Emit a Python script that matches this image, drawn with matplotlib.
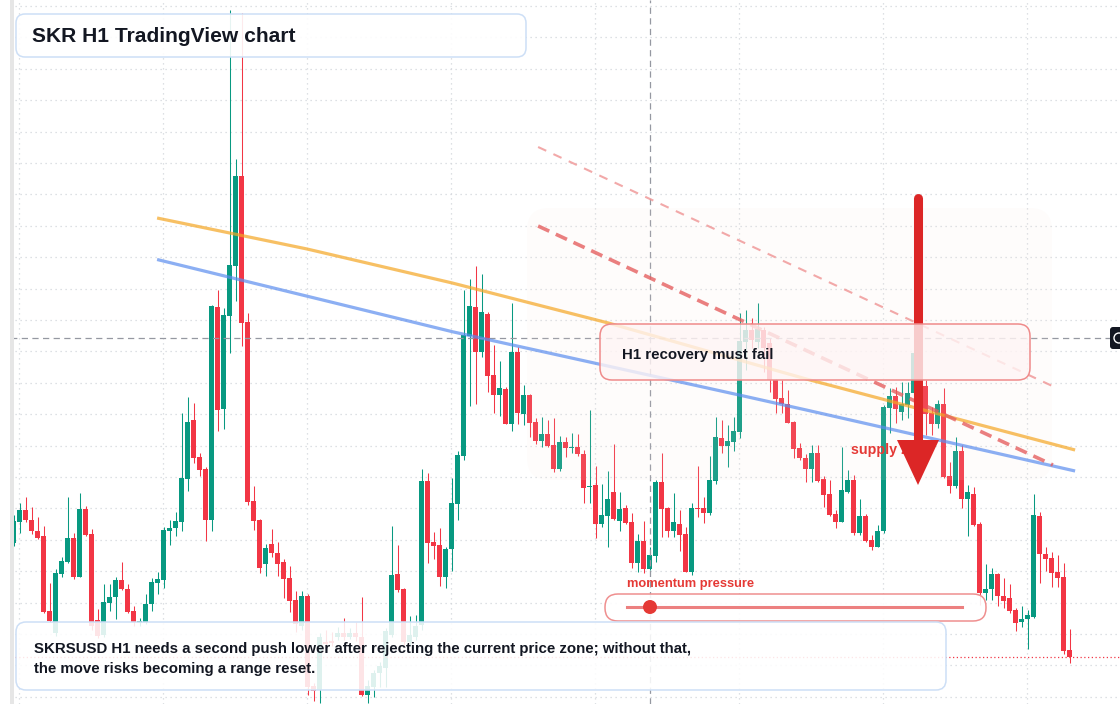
import numpy as np
import matplotlib
matplotlib.use("Agg")
import matplotlib.pyplot as plt
import matplotlib.transforms as mtransforms
from matplotlib.patches import FancyBboxPatch, Polygon, Rectangle, Circle

plt.rcParams['font.family'] = ['Liberation Sans', 'DejaVu Sans']

# SKRSUSD H1 candles, oldest -> newest (price units of the chart)
opens = [161, 182.3, 194, 184, 173, 168, 93, 71, 130, 141.7,
         165.7, 127.3, 195, 170, 84, 69, 101.3, 106.7, 124, 115,
         93, 81, 82, 100, 121, 124, 173, 176.4, 182.2, 225,
         284.2, 247, 235, 184.5, 397, 295.4, 388.3, 438.2, 528, 381.6,
         203, 184, 140.5, 160, 151, 142, 126, 104, 78, 108,
         18, 14, 62.3, 63, 67.3, 71.3, 67.3, 71.3, 67.3, 9,
         16.7, 30.7, 35.7, 69, 130, 115, 62.3, 67.3, 79, 223,
         162, 159, 126.7, 154.7, 200.3, 248.3, 368.3, 397, 352.3, 390,
         329, 309.3, 315, 280.3, 352.3, 289.7, 309, 282, 263.3, 270,
         259, 234.7, 262, 256, 257, 250, 217.3, 219, 180.3, 188.3,
         212, 183.3, 196.3, 182, 141, 163, 135.3, 148, 222, 196.3,
         173, 180, 170, 132.3, 196, 196, 191.3, 223.3, 266, 258.3,
         262.3, 272.3, 362.3, 374, 362.3, 374, 361, 324, 305.7, 300,
         282, 256, 246, 235, 250.7, 224.7, 210, 190, 182.3, 212.3,
         224, 170.7, 188, 164, 157.3, 173, 296.3, 308, 292.3, 299,
         311, 319, 318, 291.3, 280, 300, 228, 218.3, 253, 204.7,
         210, 180, 110.7, 114.7, 130, 108, 105.7, 94, 82.3, 84.7,
         86.7, 188, 150, 146, 132.3, 127.3, 54]
closes = [183, 194, 183.7, 173.3, 166.3, 92.3, 83.3, 130.7, 143, 165.7,
          126.7, 194.7, 169, 78, 68, 102, 107.3, 124, 114.7, 91.7,
          82, 83, 100, 122, 125, 174, 176.4, 183, 225.8, 282,
          246, 234, 184.5, 398, 294.5, 389, 439, 528, 380.7, 202.4,
          183, 136, 156.2, 151, 140.5, 125.3, 103.3, 80, 108, 17,
          13.3, 67.3, 60.5, 60.7, 71.3, 67.3, 71.3, 67.3, 9, 18,
          31.3, 38, 73.3, 129, 114, 62.3, 69, 78, 223, 161.3,
          158.3, 126.7, 155, 201, 249, 369, 398, 352.3, 392, 328.3,
          309.3, 316, 280.3, 352.3, 291.3, 309, 281.3, 263.3, 270, 258.3,
          235, 262, 256.3, 257, 249.7, 216.3, 218.3, 180.3, 189, 205,
          185.3, 195, 181.3, 141, 163, 135.3, 149, 222.3, 195.3, 173,
          182.3, 169.3, 132.3, 196, 195.3, 191.3, 224, 267.3, 258.3, 263,
          273, 363, 374, 364, 374.7, 355.7, 324, 305.3, 299.7, 281.3,
          255.3, 245.7, 235, 250.7, 223.3, 209, 189, 182.3, 214, 224,
          170.7, 188, 163.3, 157.3, 173, 297.3, 308, 294.7, 300, 310.7,
          351, 309, 290, 280, 300, 227.3, 218.3, 253, 205.3, 211.7,
          179.3, 110.7, 115, 130, 108.3, 103.3, 93.3, 80.7, 85.3, 88.7,
          189, 149.7, 145, 131.3, 126.3, 53.3, 47.3]
highs = [189, 201.3, 207.3, 197.3, 187.3, 178, 121, 134.7, 146.7, 206.7,
         170.7, 210.7, 198, 174.7, 94.7, 120, 120, 127.3, 142, 120,
         98, 86, 110, 126, 132.4, 177.3, 184, 192, 291, 306.6,
         301, 251.4, 237, 399.5, 414.4, 396.4, 694, 544.6, 691.4, 390.6,
         218.2, 185, 160, 175, 162, 144.7, 138, 113, 113, 110,
         21, 71, 74, 72, 77.3, 85.7, 76, 82, 107, 24,
         34, 42.3, 76, 178, 159, 116, 88, 89, 234.7, 230.7,
         172.3, 176.3, 157.3, 226, 253, 413.7, 425, 438, 430, 392,
         358.7, 343, 317, 401.3, 356.7, 319, 310, 285.7, 287.3, 284,
         286.3, 268, 267.3, 271.3, 270, 254, 294, 238, 220, 233.3,
         260, 212, 199, 190.7, 170, 183, 157.3, 224, 251.3, 197.3,
         211.3, 194, 177.3, 200.7, 238, 207.3, 248, 287.3, 284, 279,
         287.3, 390.7, 394, 385.7, 400.7, 377, 366, 325, 324, 314,
         283, 260.7, 250, 259, 259, 228, 224, 194, 257.3, 234,
         229, 205, 190, 169, 179, 299, 315.7, 317.3, 322.3, 322.3,
         354, 326, 324, 297.3, 304, 315.7, 242.3, 267, 259, 219,
         216.7, 182, 140, 135.7, 131, 125.7, 120, 96, 98, 94,
         210, 192.3, 157.3, 152.3, 149, 141.3, 74.7]
lows = [158, 171.3, 182, 170, 165.3, 91.3, 82, 68, 127.3, 140.7,
        125.3, 126.7, 168, 74, 66, 67, 93.3, 85.3, 114, 90.7,
        78, 78, 80, 93.3, 110.4, 116, 159.3, 168.3, 173.2, 213.2,
        241.5, 228, 163, 173, 273, 275.2, 350.6, 403.1, 358.2, 199,
        174, 131.5, 128.4, 147.2, 128, 105.7, 92.3, 72, 74, 9,
        3.3, 1, 56, 58, 64, 64, 65, 63, 8.5, 1,
        7.3, 17.3, 17.3, 67, 112, 59, 59, 64, 74, 141.3,
        145, 118.3, 116.3, 133.3, 184.3, 244, 298.3, 300.3, 346.7, 312.3,
        291.3, 288.3, 280, 273.3, 280, 279, 267.3, 260, 257.3, 257,
        232.3, 233.3, 246.7, 251.3, 248, 201.3, 201.3, 166.3, 177, 156.7,
        184, 173.3, 180, 135.7, 132.3, 130.7, 134, 142, 167.3, 167.3,
        166.7, 153, 132, 129, 187.3, 180.7, 189, 220, 250.7, 237.3,
        253.3, 265.7, 334, 356, 356, 332.3, 312.3, 291.3, 290.7, 281,
        246.3, 244, 222.3, 222.3, 222, 197.3, 188, 175.7, 182, 211,
        169, 169, 162, 154, 156.7, 171, 270.7, 281.3, 284, 285.7,
        304, 306, 269, 269, 276, 226, 210.7, 216, 195.7, 168.3,
        178, 99, 104, 104, 98, 95.7, 90.7, 73.3, 76.7, 54.7,
        86, 121.3, 133.3, 116.7, 116.7, 50, 41.3]

# drawn lines: (bar index, price) anchors
orange_x = [23.9, 48.9, 73.1, 99.1, 132.1, 176.9]
orange_y = [486, 455, 421, 381, 325, 254]
blue_x = [23.9, 73.1, 120.9, 132.1, 176.9]
blue_y = [444.5, 372.3, 309, 294, 233]
res_x = [87.4, 173.2]
res_y = [478, 239]
res2_x = [87.4, 173.1]
res2_y = [557, 318]
cross_bar = 106
cross_price = 366

title = "SKR H1 TradingView chart"
note_lines = ["SKRSUSD H1 needs a second push lower after rejecting the current price zone; without that,",
              "the move risks becoming a range reset."]

GREEN = '#089981'
RED = '#f23645'
INK = '#131722'

W, H = 1120, 704
fig = plt.figure(figsize=(W / 100, H / 100), dpi=100)
ax = fig.add_axes([0, 0, 1, 1])
ax.set_xlim(-13.7 / 6, (W - 13.7) / 6)
ax.set_ylim(0, H)
for s in ax.spines.values():
    s.set_visible(False)
ax.set_yticks(np.arange(7.3, H, 31.4))
ax.set_xticks(np.arange(0.9, 185, 24))
ax.tick_params(length=0, labelleft=False, labelbottom=False)
ax.grid(True, color='#d3d6dc', linestyle=(0, (1, 3)), linewidth=0.9, zorder=0)
ax.set_axisbelow(True)

# pixel coords, origin top-left
px = mtransforms.Affine2D().scale(1 / W, -1 / H).translate(0, 1) + fig.transFigure

o = np.array(opens); c = np.array(closes)
hi = np.array(highs); lo = np.array(lows)
idx = np.arange(len(o))
cols = np.where(c >= o, GREEN, RED)
ax.vlines(idx, lo, hi, colors=cols, linewidth=0.75, zorder=2)
ax.bar(idx, np.maximum(np.abs(c - o), 1.0), bottom=np.minimum(o, c), width=0.82,
       color=cols, linewidth=0, zorder=3)

# crosshair + last price
ax.axhline(cross_price, color='#9598a1', lw=0.9, dashes=(5, 3.5), zorder=4)
ax.axvline(cross_bar, color='#9598a1', lw=0.9, dashes=(5, 3.5), zorder=4)
ax.axhline(closes[-1], color=RED, lw=0.9, linestyle=(0, (1, 2)), zorder=4)

# supply zone shade
ax.add_patch(FancyBboxPatch((527, 208), 525, 272, boxstyle="round,pad=0,rounding_size=22",
                            transform=px, facecolor='#f6e6dc', alpha=0.1, edgecolor='none', zorder=4.2))

# trend lines
ax.plot(orange_x, orange_y, color='#f5a623', alpha=0.7, lw=2.3, solid_capstyle='butt', zorder=5)
ax.plot(blue_x, blue_y, color='#5b8def', alpha=0.7, lw=2.3, solid_capstyle='butt', zorder=5)
ax.plot(res_x, res_y, color='#e55c5c', alpha=0.78, lw=2.6, dashes=(3.4, 2), zorder=5)
ax.plot(res2_x, res2_y, color='#f09a9a', alpha=0.85, lw=1.5, dashes=(4.3, 3.8), zorder=5)

ax.text(851, 450, "supply zone", transform=px, color='#e53935', fontsize=10.3,
        fontweight='bold', va='center', ha='left', zorder=6)

# big arrow
ax.plot([918, 918], [198, 444], transform=px, color='#dc2626', lw=6.5,
        solid_capstyle='round', zorder=7)
ax.add_patch(Polygon([(897, 440), (939, 440), (918, 485)], closed=True, transform=px,
                     facecolor='#dc2626', edgecolor='none', zorder=7))

# recovery box
ax.add_patch(FancyBboxPatch((600, 324), 430, 56, boxstyle="round,pad=0,rounding_size=12",
                            transform=px, facecolor='#fff5f5', alpha=0.8, edgecolor='none', zorder=8))
ax.add_patch(FancyBboxPatch((600, 324), 430, 56, boxstyle="round,pad=0,rounding_size=12",
                            transform=px, facecolor='none', edgecolor='#ef8a8a', lw=1.1, zorder=8.1))
ax.text(622, 354.5, "H1 recovery must fail", transform=px, color=INK, fontsize=10.8,
        fontweight='bold', va='center', ha='left', zorder=9)

# momentum pill
ax.text(627, 584, "momentum pressure", transform=px, color='#e53935', fontsize=9.3,
        fontweight='bold', va='center', ha='left', zorder=10)
ax.add_patch(FancyBboxPatch((605, 594), 381, 27, boxstyle="round,pad=0,rounding_size=13",
                            transform=px, facecolor='white', alpha=0.9, edgecolor='none', zorder=10))
ax.add_patch(FancyBboxPatch((605, 594), 381, 27, boxstyle="round,pad=0,rounding_size=13",
                            transform=px, facecolor='none', edgecolor='#ef8f8f', lw=1.1, zorder=10.1))
ax.plot([627, 962], [607, 607], transform=px, color='#ec8080', lw=2.2, zorder=10.2)
ax.add_patch(Circle((650, 607), 7, transform=px, facecolor='#e53935', edgecolor='none', zorder=10.3))

# note box
ax.add_patch(FancyBboxPatch((16, 622), 930, 68, boxstyle="round,pad=0,rounding_size=10",
                            transform=px, facecolor='white', alpha=0.87, edgecolor='none', zorder=11))
ax.add_patch(FancyBboxPatch((16, 622), 930, 68, boxstyle="round,pad=0,rounding_size=10",
                            transform=px, facecolor='none', edgecolor='#cddff6', lw=1.1, zorder=11.1))
ax.text(34, 649.5, note_lines[0], transform=px, color=INK, fontsize=10.85,
        fontweight='bold', va='center', ha='left', zorder=12)
ax.text(34, 669.5, note_lines[1], transform=px, color=INK, fontsize=10.85,
        fontweight='bold', va='center', ha='left', zorder=12)

# title box
ax.add_patch(FancyBboxPatch((16, 14), 510, 43, boxstyle="round,pad=0,rounding_size=9",
                            transform=px, facecolor='white', alpha=0.9, edgecolor='none', zorder=11))
ax.add_patch(FancyBboxPatch((16, 14), 510, 43, boxstyle="round,pad=0,rounding_size=9",
                            transform=px, facecolor='none', edgecolor='#cddff6', lw=1.1, zorder=11.1))
ax.text(32, 37, title, transform=px, color=INK, fontsize=15.1,
        fontweight='bold', va='center', ha='left', zorder=12)

# pane edge on the left, crosshair label on the right
ax.add_patch(Rectangle((0, 0), 10, H, transform=px, facecolor='white', edgecolor='none', zorder=20))
ax.add_patch(Rectangle((10, 0), 4, H, transform=px, facecolor='#e6e6e6', edgecolor='none', zorder=20))
ax.add_patch(FancyBboxPatch((1110, 327), 14, 22, boxstyle="round,pad=0,rounding_size=3",
                            transform=px, facecolor='#131722', edgecolor='none', zorder=20))
ax.add_patch(Circle((1119, 338), 5, transform=px, facecolor='none', edgecolor='white', lw=1, zorder=21))

fig.savefig('out.png', dpi=100, facecolor='white')
